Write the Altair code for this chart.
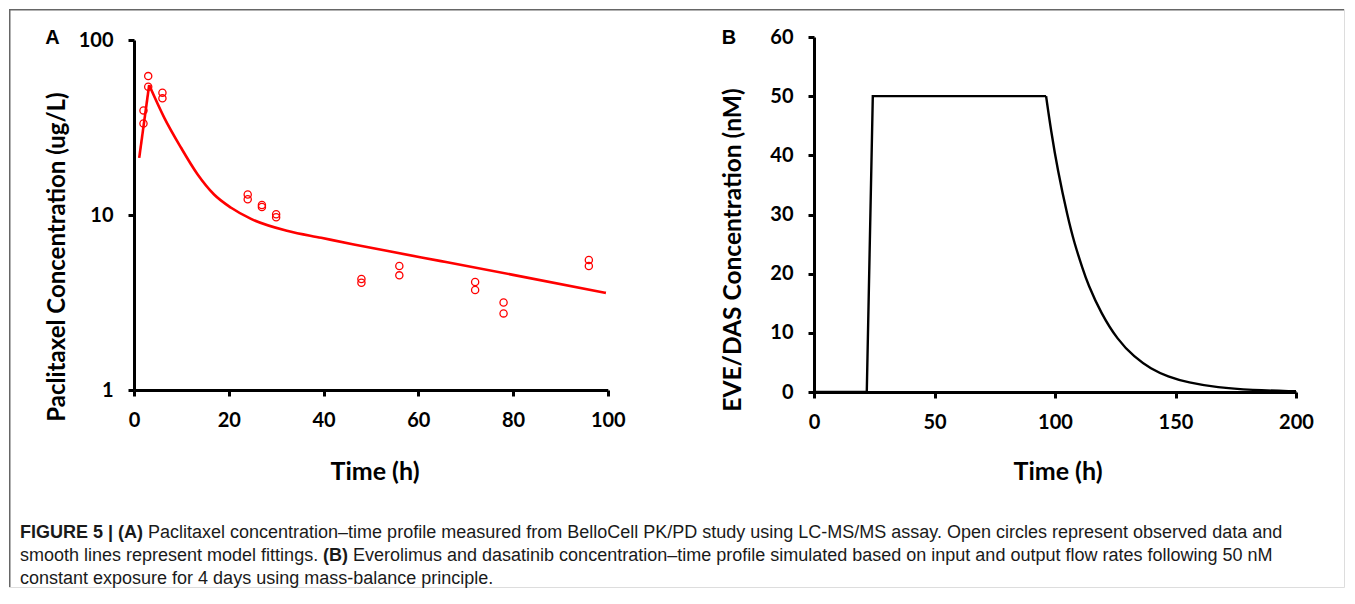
import altair as alt
import pandas as pd

# ---------------- Panel A: paclitaxel (observed + model) ----------------
obs_time = [2, 2, 3, 3, 6, 6, 24, 24, 27, 27, 30, 30, 48, 48, 56, 56, 72, 72, 78, 78, 96, 96]
obs_conc = [39.6, 33.3, 62.2, 54.1, 50.0, 46.4, 13.1, 12.3, 11.4, 11.1, 10.1, 9.7,
            4.31, 4.10, 5.11, 4.52, 4.14, 3.73, 3.16, 2.74, 5.53, 5.11]

fit_rise_time = [1.1, 3.2]
fit_rise_conc = [21.2, 55.3]
fit_decay_time = [3.2, 6.4, 9.9, 13.4, 16.9, 20.5, 24.7, 32.5, 39.5, 46.4, 53.6, 64.8, 80, 99.6]
fit_decay_conc = [55.3, 35.9, 24.3, 17.1, 13.1, 11.0, 9.5, 8.1, 7.41, 6.79, 6.22, 5.45, 4.55, 3.59]

a_x_ticks = [0, 20, 40, 60, 80, 100]
a_y_ticks = [1, 10, 100]

# ---------------- Panel B: EVE/DAS simulated profile ----------------
hold_time = [0, 21.9, 24.4, 96.3]
hold_conc = [0, 0, 50, 50]
wash_time = [96.3, 98.3, 101.1, 105.3, 108.0, 111.5, 113.6, 119.1, 126.0, 132.9,
             139.8, 146.8, 155.1, 167.5, 181.3, 200]
wash_conc = [50, 44.3, 37.5, 29.5, 25.2, 20.8, 18.3, 13.3, 8.8, 5.9,
             3.9, 2.6, 1.6, 0.75, 0.33, 0.12]

b_x_ticks = [0, 50, 100, 150, 200]
b_y_ticks = [0, 10, 20, 30, 40, 50, 60]

# ---------------- layout ----------------
W, H = 1335, 578
RED = "#ff0000"
TICK_FONT = "Lato"


def make_axis(values, orient, offset, fmt, pad):
    return alt.Axis(values=values, orient=orient, offset=offset, title=None, grid=False,
                    domainColor="black", domainWidth=3, tickColor="black", tickWidth=3,
                    tickSize=6, labelFont=TICK_FONT, labelFontWeight="bold", labelFontSize=20,
                    labelColor="black", labelPadding=pad, labelFlush=False,
                    labelOverlap=False, format=fmt)


a_x_scale = alt.Scale(domain=[0, 100], range=[125, 598.8], nice=False, zero=False)
a_y_scale = alt.Scale(type="log", domain=[1, 100], range=[381, 31], nice=False)
a_x_axis = make_axis(a_x_ticks, "bottom", 381 - H, "d", 14)
a_y_axis = make_axis(a_y_ticks, "left", -125, "d", 15)

b_x_scale = alt.Scale(domain=[0, 200], range=[805, 1287], nice=False, zero=False)
b_y_scale = alt.Scale(domain=[0, 60], range=[383, 28], nice=False, zero=False)
b_x_axis = make_axis(b_x_ticks, "bottom", 383 - H, "d", 14)
b_y_axis = make_axis(b_y_ticks, "left", -805, "d", 15)

obs_df = pd.DataFrame({"time": obs_time, "conc": obs_conc})
rise_df = pd.DataFrame({"time": fit_rise_time, "conc": fit_rise_conc})
decay_df = pd.DataFrame({"time": fit_decay_time, "conc": fit_decay_conc})
hold_df = pd.DataFrame({"hour": hold_time, "nm": hold_conc})
wash_df = pd.DataFrame({"hour": wash_time, "nm": wash_conc})


def a_enc(ch):
    return ch.encode(
        x=alt.X("time:Q", scale=a_x_scale, axis=a_x_axis),
        y=alt.Y("conc:Q", scale=a_y_scale, axis=a_y_axis),
    )


def b_enc(ch):
    return ch.encode(
        x=alt.X("hour:Q", scale=b_x_scale, axis=b_x_axis),
        y=alt.Y("nm:Q", scale=b_y_scale, axis=b_y_axis),
    )


a_rise = a_enc(alt.Chart(rise_df).mark_line(color=RED, strokeWidth=2.6))
a_decay = a_enc(alt.Chart(decay_df).mark_line(color=RED, strokeWidth=2.6, interpolate="monotone"))
a_pts = a_enc(alt.Chart(obs_df).mark_point(shape="circle", filled=False, color=RED,
                                           size=52, strokeWidth=1.3, opacity=1))
panel_a = alt.layer(a_rise, a_decay, a_pts)

b_hold = b_enc(alt.Chart(hold_df).mark_line(color="black", strokeWidth=2.4))
b_wash = b_enc(alt.Chart(wash_df).mark_line(color="black", strokeWidth=2.4, interpolate="basis"))
panel_b = alt.layer(b_hold, b_wash)


def label(text, x, y, size, weight="bold", font="Lato", angle=0, align="center",
          color="black"):
    return alt.Chart(alt.Data(values=[{}])).mark_text(
        text=text, font=font, fontSize=size, fontWeight=weight, angle=angle,
        align=align, baseline="middle", color=color,
    ).encode(x=alt.value(x), y=alt.value(y))


texts = [
    label("A", 43.5, 29, 20, font="Liberation Sans"),
    label("B", 720, 29, 20, font="Liberation Sans"),
    label("Paclitaxel Concentration (ug/L)", 49, 248, 24, angle=270),
    label("EVE/DAS Concentration (nM)", 725, 241, 24.5, angle=270),
    label("Time (h)", 366, 463, 25),
    label("Time (h)", 1049, 463, 25),
]

CAP = "#1a1a1a"
CF = "Liberation Sans"
cap = [
    label("FIGURE 5 | (A)", 11, 524, 18, font=CF, align="left", color=CAP),
    label("Paclitaxel concentration\u2013time profile measured from BelloCell PK/PD study using "
          "LC-MS/MS assay. Open circles represent observed data and",
          139, 524, 18, weight="normal", font=CF, align="left", color=CAP),
    label("smooth lines represent model fittings.", 11, 547, 18, weight="normal", font=CF,
          align="left", color=CAP),
    label("(B)", 314, 547, 18, font=CF, align="left", color=CAP),
    label("Everolimus and dasatinib concentration\u2013time profile simulated based on input and "
          "output flow rates following 50 nM",
          344, 547, 18, weight="normal", font=CF, align="left", color=CAP),
    label("constant exposure for 4 days using mass-balance principle.", 11, 570, 18,
          weight="normal", font=CF, align="left", color=CAP),
]

frame_top = alt.Chart(alt.Data(values=[{}])).mark_rule(color="#666666", strokeWidth=1.5).encode(
    x=alt.value(0), x2=alt.value(W), y=alt.value(0.75))
frame_left = alt.Chart(alt.Data(values=[{}])).mark_rule(color="#666666", strokeWidth=1.5).encode(
    x=alt.value(0.75), y=alt.value(0), y2=alt.value(H))

chart = alt.layer(panel_a, panel_b, frame_top, frame_left, *texts, *cap).resolve_scale(
    x="independent", y="independent"
).properties(
    width=W, height=H, padding=0
).configure_view(stroke=None).configure(background="white")

chart.save("out.html", embed_options={"renderer": "svg", "actions": False})
